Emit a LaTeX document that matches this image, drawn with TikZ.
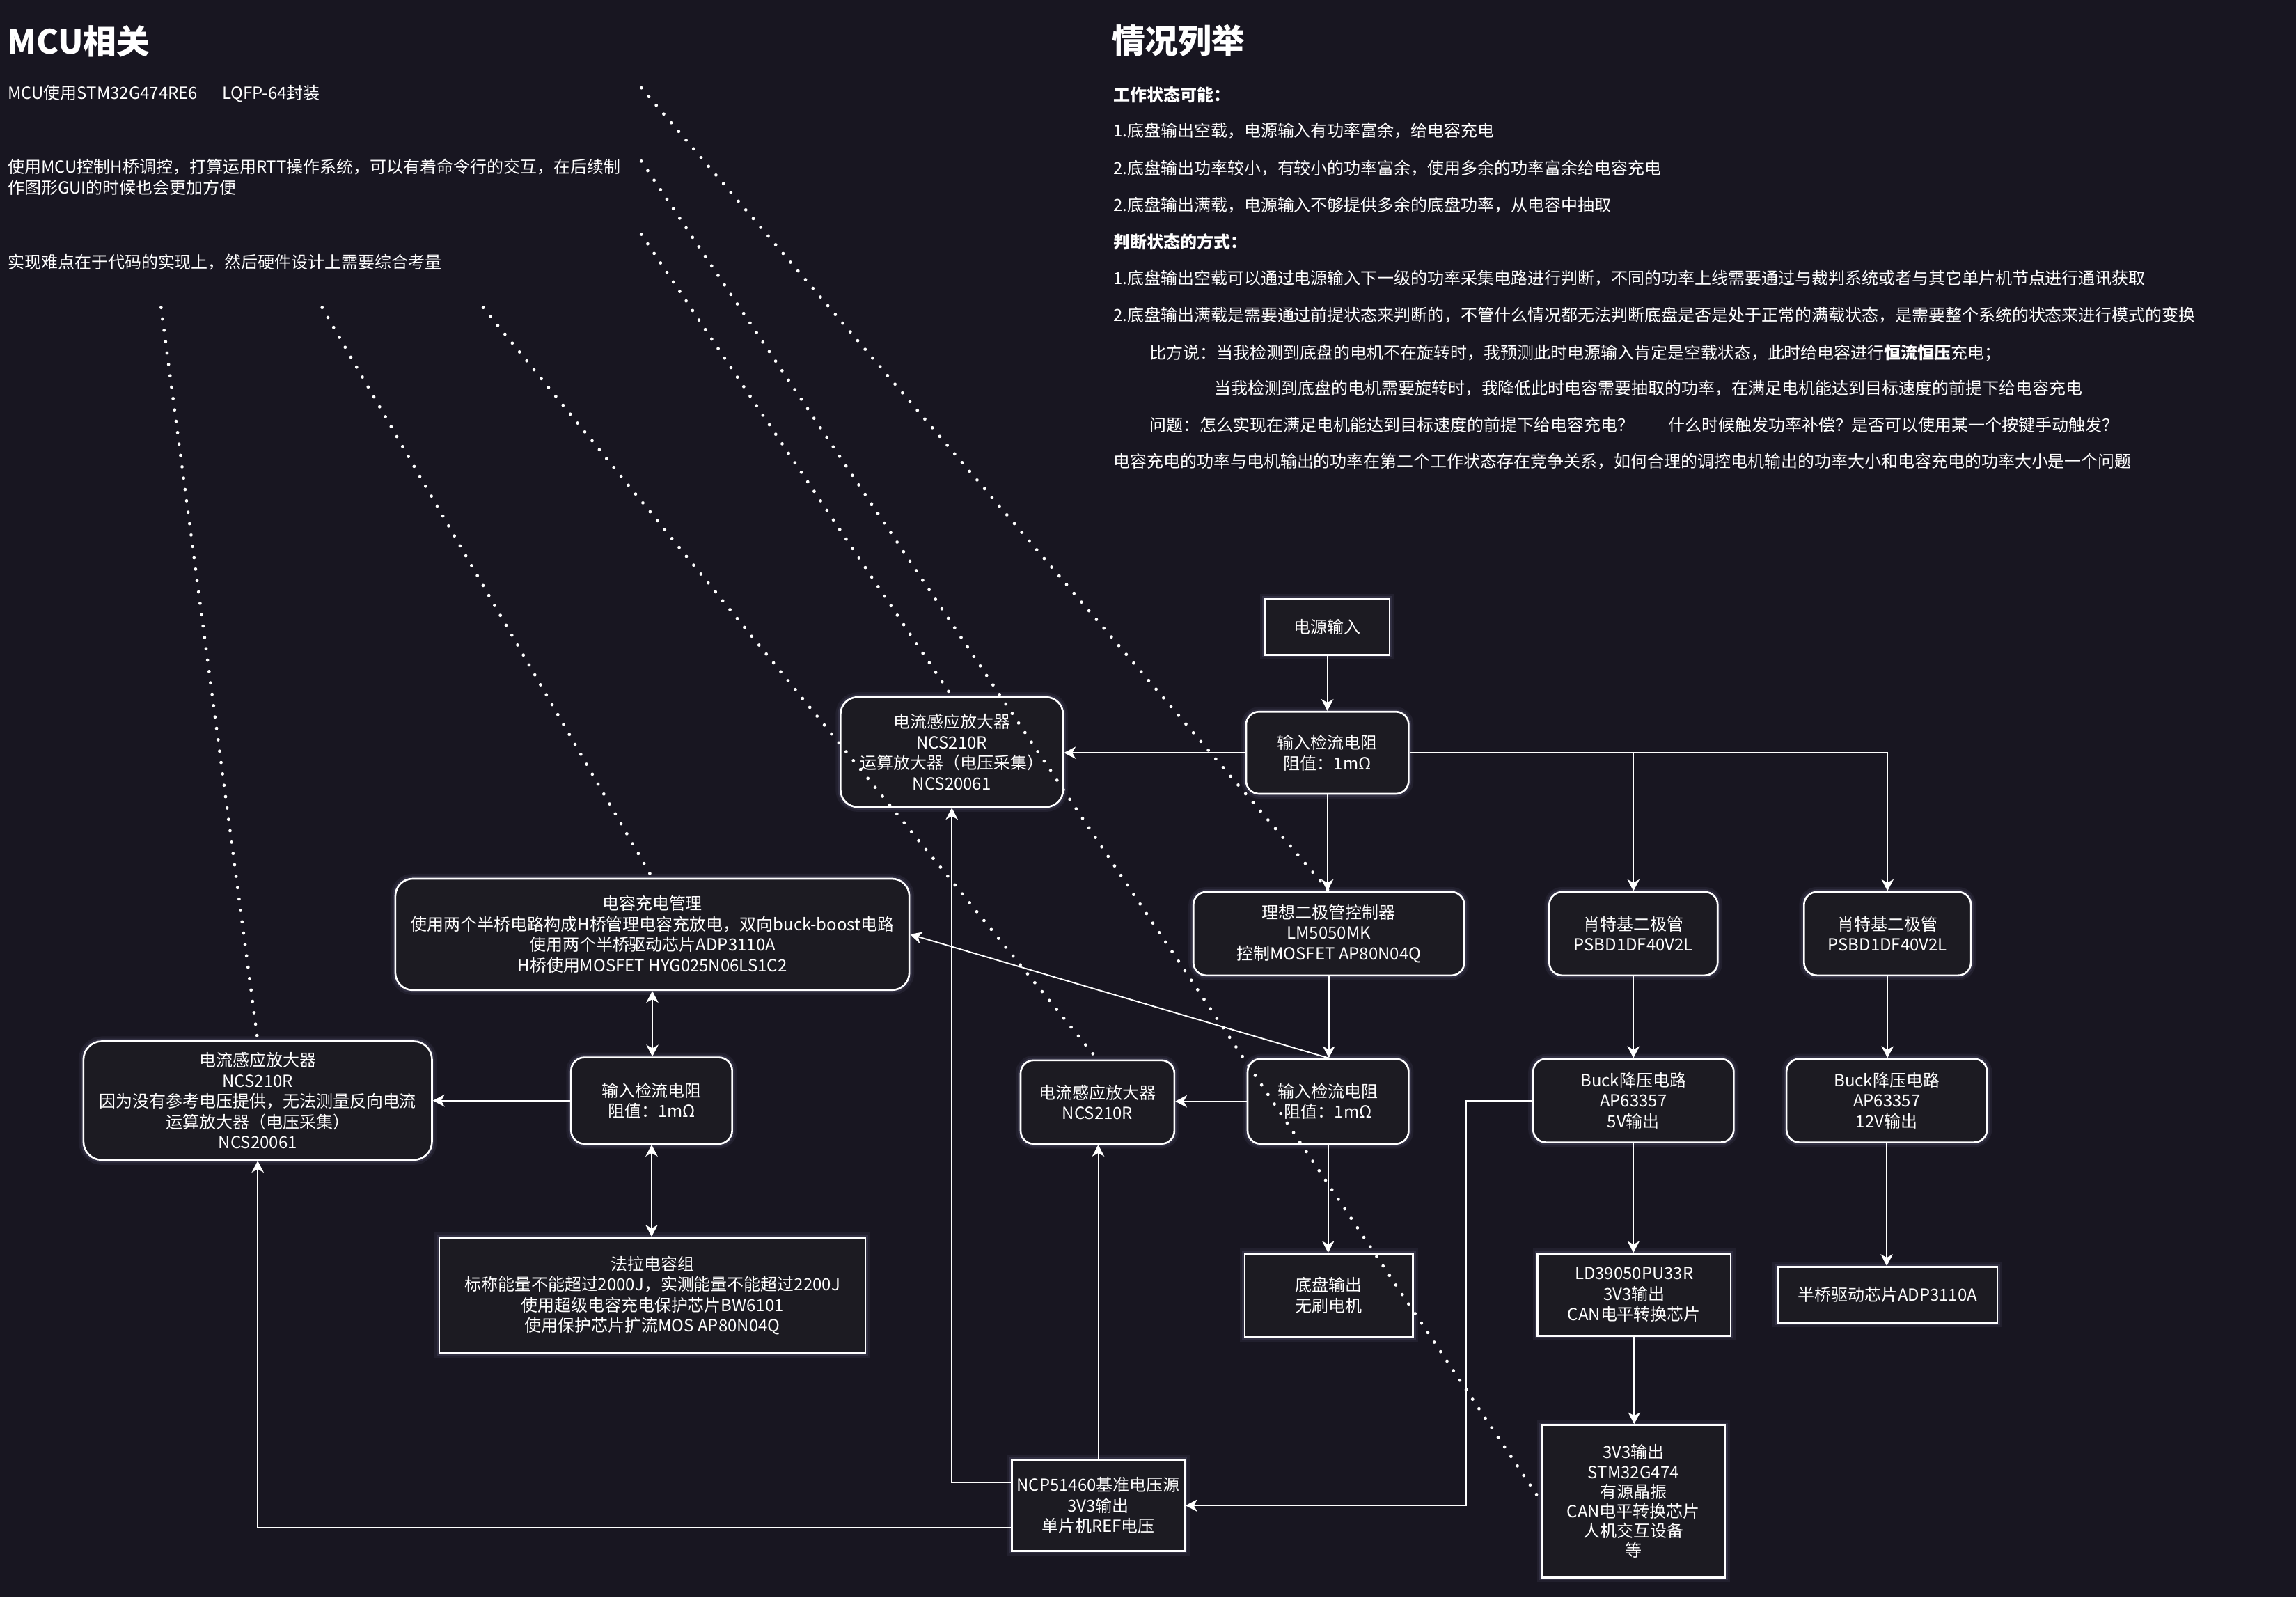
\documentclass[tikz,border=0pt]{standalone}
\usepackage{fontspec}
\setmainfont{Noto Sans CJK SC}
\usetikzlibrary{arrows.meta}
\definecolor{bg}{HTML}{181621}
\definecolor{boxfill}{HTML}{1C1B22}
\definecolor{glow}{HTML}{9A98C8}
\begin{document}
\begin{tikzpicture}[x=0.6pt,y=-0.6pt,
  font=\fontsize{6.84pt}{8.4pt}\selectfont, text=white,
  box/.style={draw=white, line width=0.75pt, fill=boxfill, align=center, inner sep=0pt,
    preaction={draw=glow, line width=4pt, opacity=0.08},
    preaction={draw=glow, line width=2.2pt, opacity=0.14}},
  rbox/.style={box, rounded corners=5.3pt},
  conn/.style={draw=white, line width=0.55pt, -{Stealth[length=4.8pt,width=5pt,inset=1.4pt]}},
  dbl/.style={draw=white, line width=0.55pt, {Stealth[length=4.8pt,width=5pt,inset=1.4pt]}-{Stealth[length=4.8pt,width=5pt,inset=1.4pt]}},
  dotline/.style={draw=white, line width=1.35pt, line cap=round, dash pattern=on 0pt off 4.7pt},
  txt/.style={inner sep=0pt, anchor=west, align=left},
  ttl/.style={txt, font=\fontsize{13.65pt}{16pt}\selectfont\bfseries}]

\useasboundingbox (0,0) rectangle (1568,1090.7);
\fill[bg] (0,0) rectangle (1568,1090.7);

% ---- titles and texts ----
\node[ttl] (t1) at (4.6,28) {MCU相关};
\node[ttl] (t2) at (759,28) {情况列举};

\node[txt] (m1) at (5,64) {MCU使用STM32G474RE6\hspace{10pt}LQFP-64封装};
\node[txt] (m2) at (5,121) {使用MCU控制H桥调控，打算运用RTT操作系统，可以有着命令行的交互，在后续制\\作图形GUI的时候也会更加方便};
\node[txt] (m3) at (5,179) {实现难点在于代码的实现上，然后硬件设计上需要综合考量};

\node[txt, font=\fontsize{6.84pt}{8.4pt}\selectfont\bfseries] (r0) at (760,65) {工作状态可能：};
\node[txt] (r1) at (760,89) {1.底盘输出空载，电源输入有功率富余，给电容充电};
\node[txt] (r2) at (760,115) {2.底盘输出功率较小，有较小的功率富余，使用多余的功率富余给电容充电};
\node[txt] (r3) at (760,140) {2.底盘输出满载，电源输入不够提供多余的底盘功率，从电容中抽取};
\node[txt, font=\fontsize{6.84pt}{8.4pt}\selectfont\bfseries] (r4) at (760,165) {判断状态的方式：};
\node[txt] (r5) at (760,190) {1.底盘输出空载可以通过电源输入下一级的功率采集电路进行判断，不同的功率上线需要通过与裁判系统或者与其它单片机节点进行通讯获取};
\node[txt] (r6) at (760,215) {2.底盘输出满载是需要通过前提状态来判断的，不管什么情况都无法判断底盘是否是处于正常的满载状态，是需要整个系统的状态来进行模式的变换};
\node[txt] (r7) at (785,241) {比方说：当我检测到底盘的电机不在旋转时，我预测此时电源输入肯定是空载状态，此时给电容进行\textbf{恒流恒压}充电；};
\node[txt] (r8) at (829,265) {当我检测到底盘的电机需要旋转时，我降低此时电容需要抽取的功率，在满足电机能达到目标速度的前提下给电容充电};
\node[txt] (r9) at (785,290) {问题：怎么实现在满足电机能达到目标速度的前提下给电容充电？\hspace{14pt}什么时候触发功率补偿？是否可以使用某一个按键手动触发？};
\node[txt] (r10) at (760,315) {电容充电的功率与电机输出的功率在第二个工作状态存在竞争关系，如何合理的调控电机输出的功率大小和电容充电的功率大小是一个问题};

% ---- boxes ----
\node[box, minimum width=51pt, minimum height=22.8pt] (pwr) at (906.5,428) {电源输入};
\node[rbox, minimum width=66.6pt, minimum height=33.6pt] (in1) at (906.5,514) {输入检流电阻\\阻值：1mΩ};
\node[rbox, rounded corners=7pt, minimum width=91.2pt, minimum height=45pt] (topamp) at (650,513.5) {电流感应放大器\\NCS210R\\运算放大器（电压采集）\\NCS20061};
\node[rbox, minimum width=111pt, minimum height=34.2pt] (ideal) at (907.5,637.5) {理想二极管控制器\\LM5050MK\\控制MOSFET AP80N04Q};
\node[rbox, minimum width=69pt, minimum height=34.2pt] (sch1) at (1115.5,637.5) {肖特基二极管\\PSBD1DF40V2L};
\node[rbox, minimum width=68.4pt, minimum height=34.2pt] (sch2) at (1289,637.5) {肖特基二极管\\PSBD1DF40V2L};
\node[rbox, minimum width=82.2pt, minimum height=34.2pt] (buck5) at (1115.5,751.5) {Buck降压电路\\AP63357\\5V输出};
\node[rbox, minimum width=82.2pt, minimum height=34.2pt] (buck12) at (1288.5,751.5) {Buck降压电路\\AP63357\\12V输出};
\node[rbox, minimum width=66pt, minimum height=34.8pt] (in2) at (907,752) {输入检流电阻\\阻值：1mΩ};
\node[rbox, minimum width=63pt, minimum height=34.2pt] (midamp) at (749.5,752.5) {电流感应放大器\\NCS210R};
\node[box, minimum width=69pt, minimum height=34.2pt] (chassis) at (907.5,884.5) {底盘输出\\无刷电机};
\node[box, minimum width=79.2pt, minimum height=33.6pt] (ld) at (1116,884) {LD39050PU33R\\3V3输出\\CAN电平转换芯片};
\node[box, minimum width=90pt, minimum height=22.8pt] (hb) at (1289,884) {半桥驱动芯片ADP3110A};
\node[box, minimum width=75pt, minimum height=62.4pt, font=\fontsize{6.84pt}{8pt}\selectfont] (stm) at (1115.5,1025) {3V3输出\\STM32G474\\有源晶振\\CAN电平转换芯片\\人机交互设备\\等};
\node[box, minimum width=70.8pt, minimum height=37.2pt] (ncp) at (750,1028) {NCP51460基准电压源\\3V3输出\\单片机REF电压};
\node[rbox, rounded corners=7.1pt, minimum width=210.6pt, minimum height=45.6pt] (cap) at (445.5,638) {电容充电管理\\使用两个半桥电路构成H桥管理电容充放电，双向buck-boost电路\\使用两个半桥驱动芯片ADP3110A\\H桥使用MOSFET HYG025N06LS1C2};
\node[rbox, rounded corners=5.5pt, minimum width=66pt, minimum height=35.4pt] (in3) at (445,751.5) {输入检流电阻\\阻值：1mΩ};
\node[rbox, rounded corners=7.5pt, minimum width=142.8pt, minimum height=48.6pt] (leftamp) at (176,751.5) {电流感应放大器\\NCS210R\\因为没有参考电压提供，无法测量反向电流\\运算放大器（电压采集）\\NCS20061};
\node[box, minimum width=174.6pt, minimum height=47.4pt] (farad) at (445.5,884.5) {法拉电容组\\标称能量不能超过2000J，实测能量不能超过2200J\\使用超级电容充电保护芯片BW6101\\使用保护芯片扩流MOS AP80N04Q};

% ---- connectors ----
\draw[conn] (pwr.south) -- (in1.north);
\draw[conn] (in1.west) -- (in1.west -| topamp.east);
\draw[conn] (in1.east) -| (sch2.north);
\draw[conn] (sch1.north |- in1.east) -- (sch1.north);
\draw[conn] (in1.south) -- (in1.south |- ideal.north);
\draw[conn] (ideal.south) -- (ideal.south |- in2.north);
\draw[conn] (in2.north) -- (cap.east);
\draw[conn] (in2.west) -- (in2.west -| midamp.east);
\draw[conn] (in2.south) -- (in2.south |- chassis.north);
\draw[conn] (sch1.south) -- (buck5.north);
\draw[conn] (sch2.south) -- (sch2.south |- buck12.north);
\draw[conn] (buck5.south) -- (buck5.south |- ld.north);
\draw[conn] (ld.south) -- (ld.south |- stm.north);
\draw[conn] (buck12.south) -- (buck12.south |- hb.north);
\draw[conn] (buck5.west) -- ++(-45,0) |- (ncp.east);
\draw[conn] (ncp.north) -- (ncp.north |- midamp.south);
\draw[conn] ([yshift=9.6pt]ncp.west) -| (topamp.south);
\draw[conn] ([yshift=-9pt]ncp.west) -| (leftamp.south);
\draw[dbl] (cap.south) -- (cap.south |- in3.north);
\draw[dbl] (in3.south) -- (in3.south |- farad.north);
\draw[conn] (in3.west) -- (in3.west -| leftamp.east);

% ---- dotted links ----
\coordinate (s1) at (438,60);
\coordinate (s2) at (438,110);
\coordinate (s3) at (438,160);
\coordinate (s4) at (110,210);
\coordinate (s5) at (220,210);
\coordinate (s6) at (330,210);
\draw[dotline] (s1) -- (ideal.north);
\draw[dotline] (s2) -- (stm.west);
\draw[dotline] (s3) -- (topamp.north);
\draw[dotline] (s4) -- (leftamp.north);
\draw[dotline] (s5) -- (cap.north);
\draw[dotline] (s6) -- (midamp.north);
\end{tikzpicture}
\end{document}
